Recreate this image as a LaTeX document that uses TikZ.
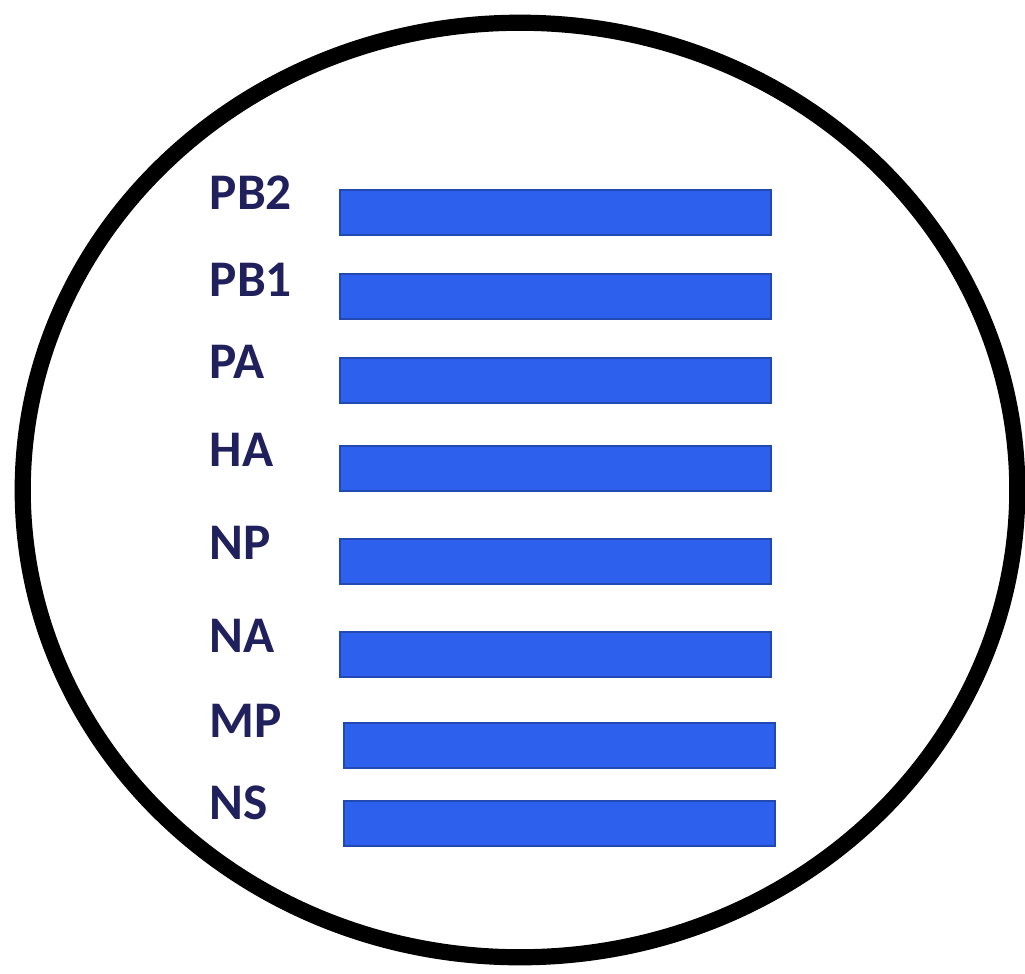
\documentclass[tikz,border=0pt]{standalone}
\usepackage{fontspec}
\setmainfont{Carlito}
\definecolor{barblue}{RGB}{46,96,238}
\definecolor{labnavy}{RGB}{32,32,92}
\begin{document}
\begin{tikzpicture}[x=0.01cm, y=-0.01cm,
  bar/.style={fill=barblue, draw=barblue!75!black, line width=0.5pt, anchor=north west,
    inner sep=0pt, minimum width=4.31cm, minimum height=0.45cm},
  lab/.style={font=\fontsize{14.6}{16}\selectfont\bfseries, text=labnavy, anchor=west, inner sep=0pt}]
  \useasboundingbox (0,0) rectangle (1025,973);
  % outline of the disc
  \draw[line width=4.6pt] (520,490) ellipse [x radius=4.97cm, y radius=4.67cm];
  % name/label-centre/bar-top/bar-left
  \foreach \nm/\lab/\cy/\top/\xl in {pbtwo/PB2/193/189/339, pbone/PB1/280/273/339,
      pa/PA/362/357/339, ha/HA/450/445/339, np/NP/543/538/339, na/NA/636/631/339,
      mp/MP/721/722/343, ns/NS/803/800/343}{
    \node[bar] (b\nm) at (\xl,\top) {};
    \node[lab] (l\nm) at (209,\cy) {\lab};
  }
\end{tikzpicture}
\end{document}
